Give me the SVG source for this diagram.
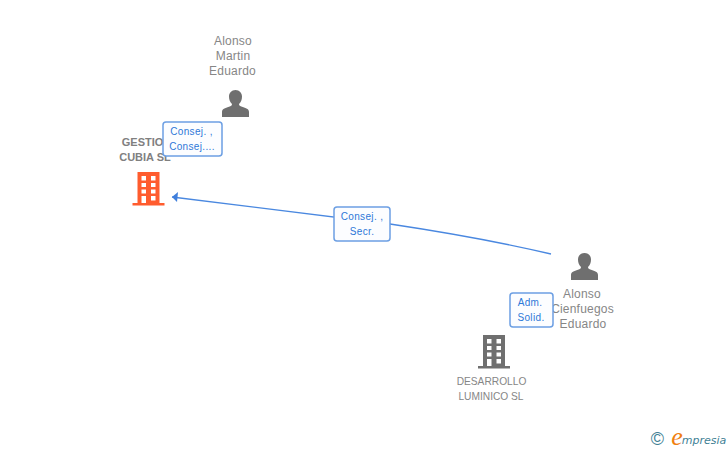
<svg xmlns="http://www.w3.org/2000/svg" width="728" height="450" viewBox="0 0 728 450">
<style>
text{font-family:"Liberation Sans",Arial,sans-serif;text-anchor:middle}
.n{font-size:12px;fill:#868686;letter-spacing:.2px}
.s{font-size:10.200px;fill:#868686}
.b{font-size:11px;fill:#808080;font-weight:bold}
.l{font-size:10px;fill:#2e78d8;letter-spacing:.35px}
.box{fill:#fcfdff;stroke:#6c9fe3;stroke-width:1.5}
.edge{fill:none;stroke:#4a88e0;stroke-width:1.3}
</style>
<defs>
<path id="person" d="M13.500 0C17.500 0 20 3 20 6.500C20 9.500 19 12 17 14C17 15.500 18 16 20 16.800C24 18 27 19 27 22V27H0V22C0 19 3 18 7 16.800C9 16 10 15.500 10 14C8 12 7 9.500 7 6.500C7 3 9.500 0 13.500 0Z"/>
<path id="building" fill-rule="evenodd" d="M5 0H27V31H32V33.500H0V31H5ZM9 4V8.500H13.500V4ZM18.500 4V8.500H23V4ZM9 11V15H13.500V11ZM18.500 11V15H23V11ZM9 17.500V21.500H13.500V17.500ZM18.500 17.500V21.500H23V17.500ZM9 24V31H13.500V24ZM18.500 24V28.500H23V24Z"/>
</defs>
<g id="connectors">
<path class="edge" d="M551 254C500 242 450 233 390 224L172 197"/>
<path d="M172 197L178 192L177 202Z" fill="#3f7fdc"/>
</g>
<g id="node-alonso-martin">
<use href="#person" x="222" y="90" fill="#6f6f6f"/>
<text class="n" x="233" y="45">Alonso</text>
<text class="n" x="233" y="60">Martin</text>
<text class="n" x="232.500" y="75">Eduardo</text>
</g>
<g id="node-gestion-cubia">
<use href="#building" x="132.500" y="172" fill="#ff5c2e"/>
<text class="b" x="146.500" y="146">GESTION</text>
<text class="b" x="145" y="161">CUBIA SL</text>
</g>
<g id="node-alonso-cienfuegos">
<use href="#person" x="571" y="253" fill="#6f6f6f"/>
<text class="n" x="582" y="298">Alonso</text>
<text class="n" x="582.500" y="313">Cienfuegos</text>
<text class="n" x="583" y="328">Eduardo</text>
</g>
<g id="node-desarrollo">
<use href="#building" x="478" y="335" fill="#6f6f6f"/>
<text class="s" x="491.500" y="385">DESARROLLO</text>
<text class="s" x="491" y="400">LUMINICO SL</text>
</g>
<g id="label-consej-top">
<rect class="box" x="163" y="122" width="59" height="34" rx="3"/>
<text class="l" x="191.500" y="135">Consej. ,</text>
<text class="l" x="192" y="150">Consej....</text>
</g>
<g id="label-consej-secr">
<rect class="box" x="334" y="207" width="56" height="34" rx="3"/>
<text class="l" x="362" y="220">Consej. ,</text>
<text class="l" x="362" y="235">Secr.</text>
</g>
<g id="label-adm">
<rect class="box" x="510" y="293" width="43" height="34" rx="3"/>
<text class="l" x="530" y="306">Adm.</text>
<text class="l" x="531" y="321">Solid.</text>
</g>
<g id="logo">
<text x="657.500" y="445" style="font-size:18px;fill:#3f7f95">©</text>
<text x="677" y="445" style="font-family:'Liberation Serif',serif;font-size:26px;font-style:italic;fill:#f08010">e</text>
<text x="704" y="444" style="font-family:'DejaVu Sans',sans-serif;font-size:11px;font-style:italic;fill:#3f7f95">mpresia</text>
</g>
</svg>
